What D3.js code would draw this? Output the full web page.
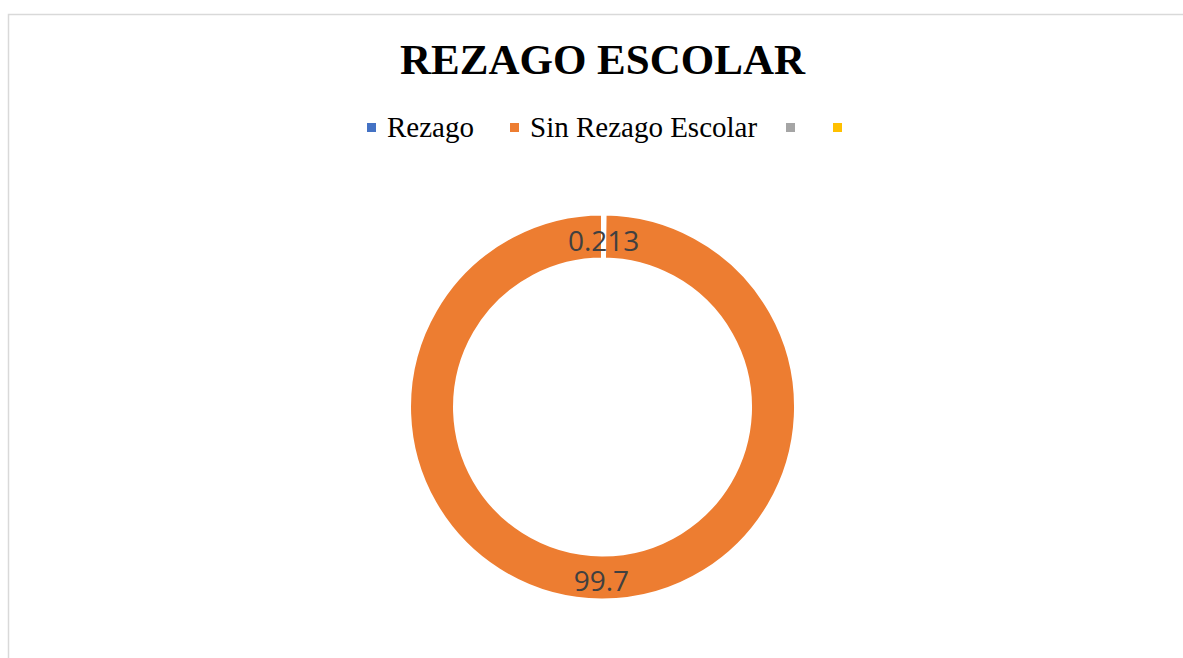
<!DOCTYPE html>
<html>
<head>
<meta charset="utf-8">
<script src="https://cdn.jsdelivr.net/npm/d3@7"></script>
<style>
  body { margin: 0; background: #fff; }
</style>
</head>
<body>
<div id="chart"></div>
<script>
var categories = ["Rezago", "Sin Rezago Escolar", "", ""];
var values = [0.213, 99.7, 0, 0];
var labels = ["0.213", "99.7", "", ""];
var colors = ["#4472C4", "#ED7D31", "#A5A5A5", "#FFC000"];

var width = 1183, height = 658;

var svg = d3.select("#chart")
  .append("svg")
  .attr("width", width)
  .attr("height", height);

// chart area border (runs off the right and bottom edges)
svg.append("rect")
  .attr("x", 8.5)
  .attr("y", 14.5)
  .attr("width", width)
  .attr("height", height)
  .attr("fill", "#fff")
  .attr("stroke", "#d9d9d9")
  .attr("stroke-width", 1.5);

svg.append("text")
  .attr("x", 602.5)
  .attr("y", 74)
  .attr("text-anchor", "middle")
  .attr("font-family", "Liberation Serif, Times New Roman, serif")
  .attr("font-weight", "bold")
  .attr("font-size", 43)
  .attr("fill", "#000")
  .text("REZAGO ESCOLAR");

// legend
var legendX = [367, 510, 786, 833];
var legend = svg.append("g").selectAll("g")
  .data(categories)
  .enter().append("g")
  .attr("transform", function(d, i) { return "translate(" + legendX[i] + ",123)"; });

legend.append("rect")
  .attr("width", 9)
  .attr("height", 9)
  .attr("fill", function(d, i) { return colors[i]; });

legend.append("text")
  .attr("x", 20)
  .attr("y", 14)
  .attr("font-family", "Liberation Serif, Times New Roman, serif")
  .attr("font-size", 29)
  .attr("fill", "#000")
  .text(function(d) { return d; });

// donut
var cx = 602.5, cy = 407;
var outerR = 193, innerR = 148;

var pie = d3.pie()
  .value(function(d) { return d; })
  .sort(null);

var arc = d3.arc()
  .outerRadius(outerR)
  .innerRadius(innerR);

var holder = svg.append("g").attr("transform", "translate(" + cx + "," + cy + ")");
var arcs = pie(values);

holder.selectAll("path")
  .data(arcs)
  .enter().append("path")
  .attr("d", arc)
  .attr("fill", function(d, i) { return colors[i]; })
  .attr("stroke", "#fff")
  .attr("stroke-width", 3);

// labels on top of every slice
holder.selectAll("text")
  .data(arcs.filter(function(d) { return d.value > 0; }))
  .enter().append("text")
  .attr("transform", function(d) {
    var c = arc.centroid(d);
    return "translate(" + c[0] + "," + (c[1] + 3) + ")";
  })
  .attr("text-anchor", "middle")
  .attr("dominant-baseline", "central")
  .attr("font-family", "Open Sans, sans-serif")
  .attr("font-size", 28)
  .attr("fill", "#404040")
  .text(function(d) { return labels[d.index]; });
</script>
</body>
</html>
